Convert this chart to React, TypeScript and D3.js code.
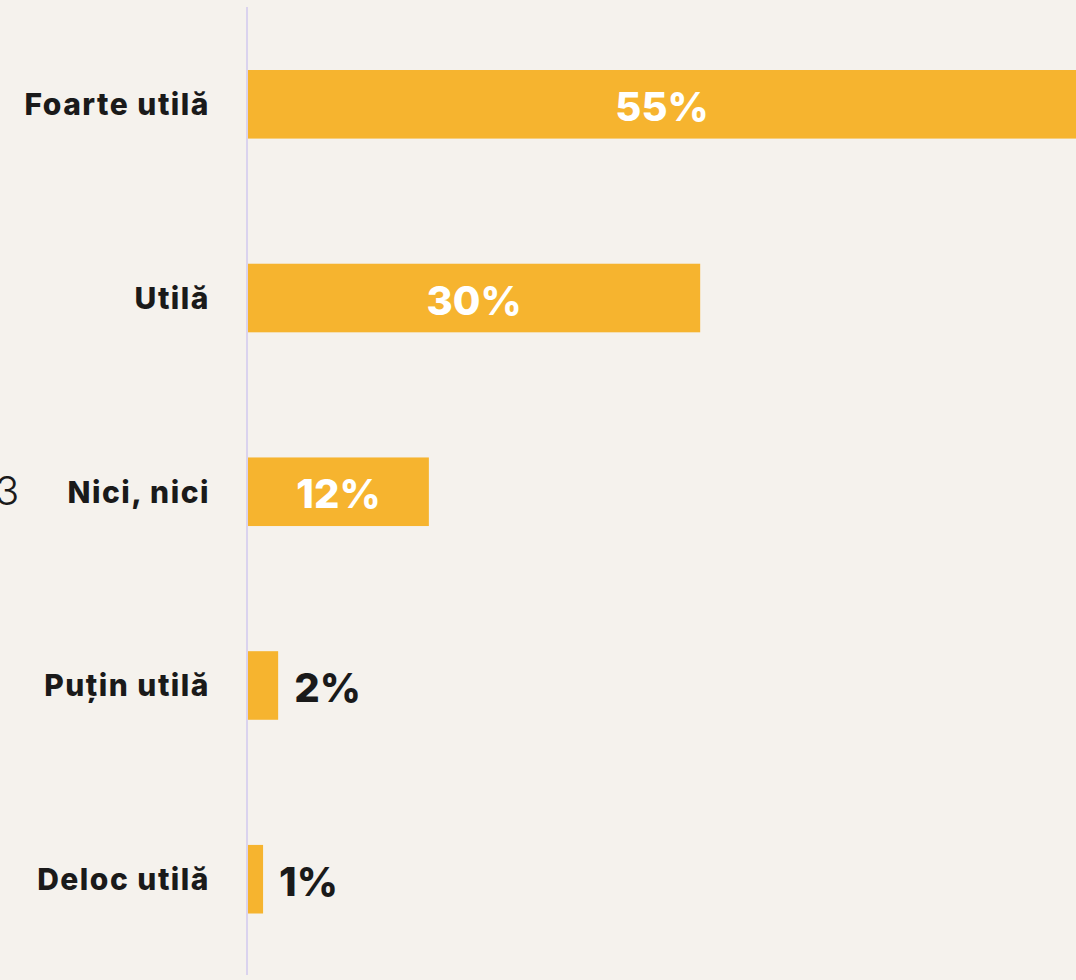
import React from "react";
import * as d3 from "d3";

const categories = ["Foarte utilă", "Utilă", "Nici, nici", "Puțin utilă", "Deloc utilă"];
const values = [55, 30, 12, 2, 1];
const valueLabels = ["55%", "30%", "12%", "2%", "1%"];

const W = 1076;
const H = 980;
const FONT = "Inter, 'DejaVu Sans', sans-serif";

export default function App() {
  const x = d3.scaleLinear().domain([0, 55]).range([248, 1077]);
  const y = d3
    .scaleBand<string>()
    .domain(categories)
    .range([70, 913.5])
    .paddingInner(0.646)
    .paddingOuter(0);

  return (
    <svg
      width={W}
      height={H}
      style={{ position: "absolute", left: 0, top: 0, display: "block" }}
    >
      <rect x={0} y={0} width={W} height={H} fill="#f5f2ed" />
      <text
        x={-5}
        y={490}
        fontFamily={FONT}
        fontSize={40}
        fontWeight={300}
        fill="#1a1a1a"
        dominantBaseline="central"
      >
        3
      </text>
      <line x1={247} x2={247} y1={7} y2={975} stroke="#dad3ee" strokeWidth={2} />
      {categories.map((c, i) => {
        const yy = y(c)!;
        const bw = y.bandwidth();
        const x0 = x(0);
        const x1 = x(values[i]);
        const w = x1 - x0;
        const inside = w > 100;
        const cy = yy + bw / 2;
        return (
          <g key={c}>
            <rect x={x0} y={yy} width={w} height={bw} fill="#f6b42f" />
            <text
              x={210}
              y={cy}
              textAnchor="end"
              dominantBaseline="central"
              fontFamily={FONT}
              fontSize={30}
              fontWeight={800}
              letterSpacing={1.5}
              fill="#1a1a1a"
            >
              {c}
            </text>
            <text
              x={inside ? (x0 + Math.min(x1, W)) / 2 : x1 + 16}
              y={cy + 2}
              textAnchor={inside ? "middle" : "start"}
              dominantBaseline="central"
              fontFamily={FONT}
              fontSize={40}
              fontWeight={800}
              fill={inside ? "#ffffff" : "#1a1a1a"}
            >
              {valueLabels[i]}
            </text>
          </g>
        );
      })}
    </svg>
  );
}
